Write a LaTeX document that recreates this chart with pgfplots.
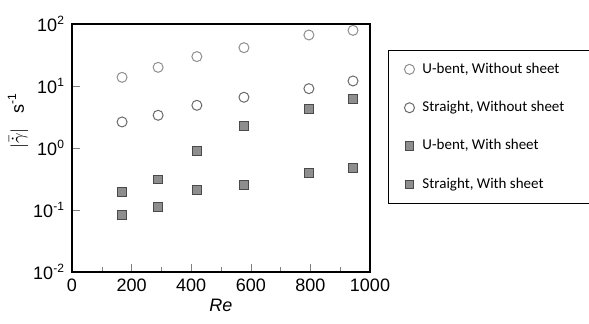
\documentclass[border=0pt]{standalone}
\usepackage{pgfplots}
\pgfplotsset{compat=1.18}
\usepackage{fontspec}
\setmainfont{Liberation Sans}
\newfontfamily\legfont{Carlito}
\definecolor{sqfill}{HTML}{8E8E8E}
\definecolor{sqdraw}{HTML}{4A4A4A}
\definecolor{circ}{HTML}{6A6A6A}
\begin{document}
\begin{tikzpicture}
\useasboundingbox (-36pt,-26pt) rectangle (258.5pt,136pt);
\begin{axis}[
  at={(0,0)}, anchor=south west,
  scale only axis, width=149pt, height=124pt,
  ymode=log, xmin=0, xmax=1000, ymin=0.01, ymax=100,
  xtick={0,200,...,1000}, minor xtick={100,300,...,900},
  ytick={0.01,0.1,1,10,100},
  yticklabels={10\textsuperscript{-2},10\textsuperscript{-1},10\textsuperscript{0},10\textsuperscript{1},10\textsuperscript{2}},
  yminorticks=false,
  /pgf/number format/assume math mode=true,
  /pgf/number format/1000 sep={},
  tick align=inside, xtick pos=lower, ytick pos=left,
  major tick length=4pt, minor tick length=2.5pt,
  tick label style={font=\fontsize{9}{10}\selectfont},
  xlabel={\textit{Re}}, xlabel style={font=\fontsize{9}{10}\selectfont, yshift=3pt},
  ylabel={$|\bar{\dot{\gamma}}|$\ \ \ s\textsuperscript{-1}},
  ylabel style={font=\fontsize{9}{10}\selectfont, at={(axis description cs:-0.181,0.61)}, anchor=center, rotate=0},
  axis line style={line width=0.6pt},
  legend style={at={(1.06,0.895)}, anchor=north west, draw=black, line width=0.6pt,
    font=\legfont\fontsize{7.5}{9}\selectfont, row sep=8.5pt, inner ysep=4pt, inner xsep=8pt,
    nodes={inner xsep=4pt}},
  legend cell align=left,
]
\addplot[only marks, mark=o, mark size=2.5pt, mark options={draw=circ!75, line width=0.5pt}] coordinates {
(168,13.8) (289,20) (419,29.8) (577,41.5) (795,66.5) (943,79)};
\addlegendentry{U-bent, Without sheet}
\addplot[only marks, mark=o, mark size=2.5pt, mark options={draw=circ, line width=0.5pt}] coordinates {
(168,2.63) (289,3.37) (419,4.88) (577,6.58) (795,9.06) (943,12.05)};
\addlegendentry{Straight, Without sheet\rule{6pt}{0pt}}
\addplot[only marks, mark=square*, mark size=2.2pt, mark options={draw=sqdraw, fill=sqfill, line width=0.5pt}] coordinates {
(168,0.198) (289,0.31) (419,0.905) (577,2.26) (795,4.2) (943,6.2)};
\addlegendentry{U-bent, With sheet}
\addplot[only marks, mark=square*, mark size=2.2pt, mark options={draw=sqdraw, fill=sqfill, line width=0.5pt}] coordinates {
(168,0.082) (289,0.112) (419,0.213) (577,0.253) (795,0.39) (943,0.475)};
\addlegendentry{Straight, With sheet}
\end{axis}
\end{tikzpicture}
\end{document}
